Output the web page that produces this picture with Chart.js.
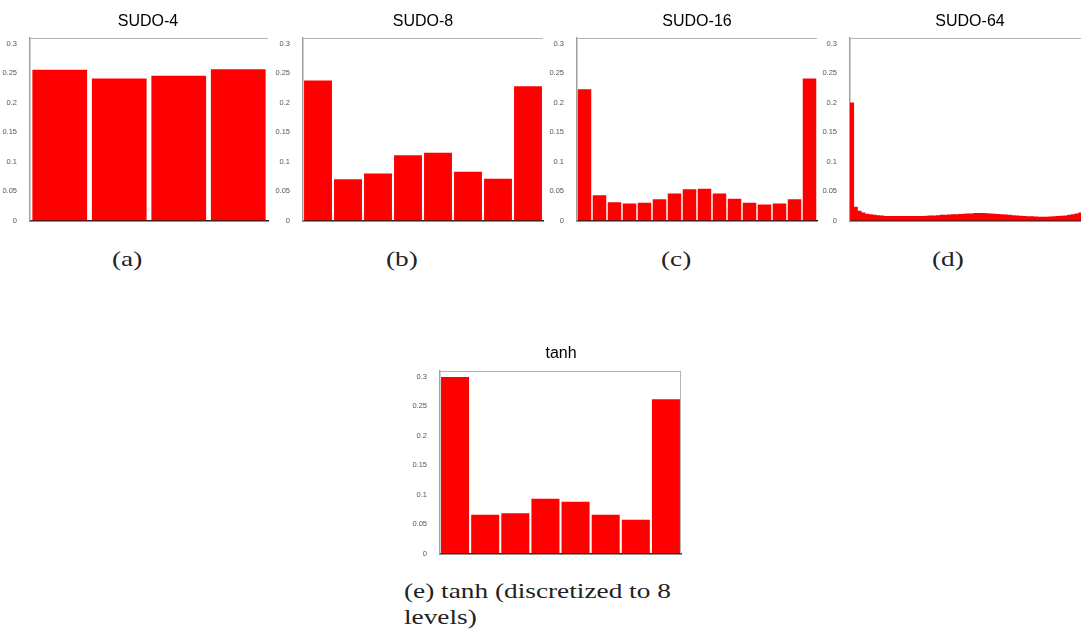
<!DOCTYPE html>
<html>
<head>
<meta charset="utf-8">
<script src="https://cdn.jsdelivr.net/npm/chart.js@4/dist/chart.umd.min.js"></script>
<style>
  html, body { margin: 0; padding: 0; background: #fff; }
  body { width: 1081px; height: 631px; position: relative; overflow: hidden; }
  .panel { position: absolute; }
  .title { position: absolute; font-family: "Liberation Sans", Arial, sans-serif; font-size: 16px; color: #000; transform: translateX(-50%); white-space: nowrap; }
  .cap { position: absolute; font-family: "Liberation Serif", "DejaVu Serif", serif; font-size: 21px; color: #222; white-space: nowrap; transform: scaleX(1.3); transform-origin: 0 0; }
</style>
</head>
<body>
<canvas id="chartA" class="panel"></canvas>
<canvas id="chartB" class="panel"></canvas>
<canvas id="chartC" class="panel"></canvas>
<canvas id="chartD" class="panel"></canvas>
<canvas id="chartE" class="panel"></canvas>

<div class="title" style="left:148px; top:12px;">SUDO-4</div>
<div class="title" style="left:423px; top:12px;">SUDO-8</div>
<div class="title" style="left:697px; top:12px;">SUDO-16</div>
<div class="title" style="left:970px; top:12px;">SUDO-64</div>
<div class="title" style="left:561px; top:344px;">tanh</div>

<div class="cap" style="left:112px; top:247px;">(a)</div>
<div class="cap" style="left:386px; top:247px;">(b)</div>
<div class="cap" style="left:661px; top:247px;">(c)</div>
<div class="cap" style="left:932px; top:247px;">(d)</div>
<div class="cap" style="left:404px; top:579px;">(e) tanh (discretized to 8</div>
<div class="cap" style="left:404px; top:605px;">levels)</div>

<script>
// y axis ticks shared by every panel
let yTicks = [0, 0.05, 0.1, 0.15, 0.2, 0.25, 0.3];
let yTickLabels = ["0", "0.05", "0.1", "0.15", "0.2", "0.25", "0.3"];

// histogram values
let sudo4 = [0.256, 0.241, 0.246, 0.257];
let sudo8 = [0.238, 0.070, 0.080, 0.111, 0.115, 0.083, 0.071, 0.228];
let sudo16 = [0.223, 0.043, 0.031, 0.029, 0.030, 0.036, 0.046, 0.053,
  0.054, 0.046, 0.037, 0.030, 0.027, 0.029, 0.036, 0.241];
let sudo64 = [0.200, 0.023, 0.016, 0.013, 0.011, 0.010, 0.009, 0.0085,
  0.008, 0.0072, 0.007, 0.007, 0.007, 0.007, 0.007, 0.007,
  0.007, 0.007, 0.007, 0.0072, 0.0075, 0.0078, 0.008, 0.0085,
  0.009, 0.0092, 0.0095, 0.010, 0.0102, 0.0105, 0.011, 0.0112,
  0.0115, 0.012, 0.012, 0.012, 0.0118, 0.0115, 0.011, 0.0105,
  0.010, 0.0095, 0.009, 0.0085, 0.008, 0.0075, 0.007, 0.0068,
  0.0065, 0.0063, 0.006, 0.006, 0.006, 0.0062, 0.0065, 0.007,
  0.0075, 0.008, 0.009, 0.010, 0.0115, 0.013, 0.016, 0.022];
let tanh8 = [0.300, 0.066, 0.0685, 0.093, 0.088, 0.066, 0.0575, 0.262];

// draws the light frame gnuplot puts round the plot
let framePlugin = {
  id: "frame",
  afterDraw(chart, args, opts) {
    let a = chart.chartArea;
    let ctx = chart.ctx;
    ctx.save();
    ctx.strokeStyle = "#b4b4b4";
    ctx.lineWidth = 1;
    ctx.beginPath();
    ctx.moveTo(a.left, a.top + 0.5);
    ctx.lineTo(a.right, a.top + 0.5);
    if (opts.right) {
      ctx.moveTo(a.right - 0.5, a.top);
      ctx.lineTo(a.right - 0.5, a.bottom);
    }
    ctx.stroke();
    ctx.restore();
  },
};

function makePanel(id, values, left, top, plotWidth, barPct, rightFrame) {
  let canvas = document.getElementById(id);
  let w = plotWidth + 32;
  let h = 230;
  canvas.style.left = left + "px";
  canvas.style.top = top + "px";
  canvas.style.width = w + "px";
  canvas.style.height = h + "px";
  canvas.width = w;
  canvas.height = h;

  let labels = values.map((v, i) => String(i + 1));

  new Chart(canvas.getContext("2d"), {
    type: "bar",
    data: {
      labels: labels,
      datasets: [
        {
          data: values,
          backgroundColor: "#ff0000",
          borderWidth: 0,
          barPercentage: barPct,
          categoryPercentage: 1,
        },
      ],
    },
    options: {
      responsive: false,
      animation: false,
      layout: { padding: { top: 38, right: 2, bottom: 2, left: 0 } },
      plugins: {
        legend: { display: false },
        tooltip: { enabled: false },
        frame: { right: rightFrame },
      },
      scales: {
        x: {
          grid: { display: false },
          ticks: { display: false },
          border: { color: "#222", width: 1.5 },
          afterFit: (axis) => { axis.height = 0; },
        },
        y: {
          min: 0,
          max: 0.31,
          grid: { display: false },
          border: { color: "#a0a0a0", width: 1.5 },
          afterFit: (axis) => { axis.width = 30; },
          afterBuildTicks: (axis) => {
            axis.ticks = yTicks.map((v) => ({ value: v }));
          },
          ticks: {
            font: { family: "Liberation Sans", size: 7.5 },
            color: "#555",
            padding: 5,
            callback: (v) => {
              let k = yTicks.findIndex((t) => Math.abs(t - v) < 1e-9);
              return k >= 0 ? yTickLabels[k] : "";
            },
          },
        },
      },
    },
    plugins: [framePlugin],
  });
}

makePanel("chartA", sudo4, 0, 0, 238, 0.92, false);
makePanel("chartB", sudo8, 273, 0, 240, 0.93, false);
makePanel("chartC", sudo16, 547, 0, 240, 0.9, false);
makePanel("chartD", sudo64, 820, 0, 240, 1.0, false);
makePanel("chartE", tanh8, 410, 333, 241, 0.93, true);
</script>
</body>
</html>
